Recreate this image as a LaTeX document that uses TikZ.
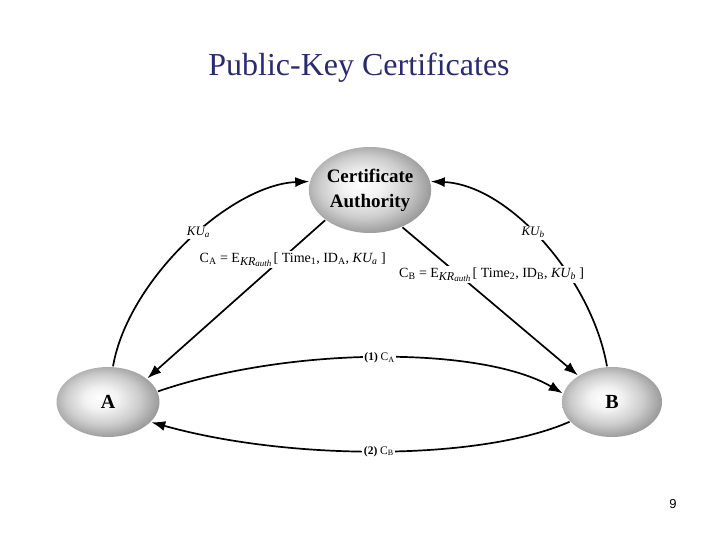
\documentclass[tikz,border=0pt]{standalone}
\usepackage{fontspec}
\setmainfont{Liberation Serif}
\newfontfamily\pagefont{Liberation Sans}
\usetikzlibrary{shapes.geometric,arrows.meta}
\definecolor{titleblue}{RGB}{42,42,110}
\pgfdeclareradialshading{partyshade}{\pgfpoint{-4bp}{3bp}}{color(0bp)=(white);color(8bp)=(gray!10);color(18bp)=(gray!40);color(27bp)=(gray!80);color(50bp)=(gray!85)}
\newcommand\keyauth{\raisebox{-0.45ex}{\fontsize{12bp}{12bp}\selectfont\textit{KR}\raisebox{-0.3ex}{\fontsize{9bp}{9bp}\selectfont\textit{auth}}}}
\begin{document}
\begin{tikzpicture}[x=1bp,y=1bp,line width=1.7bp,
  party/.style={ellipse,shading=partyshade,inner sep=0pt,font=\fontsize{20bp}{22bp}\selectfont\bfseries},
  lbl/.style={fill=white,inner sep=1.5bp,font=\fontsize{14bp}{16bp}\selectfont},
  steplbl/.style={fill=white,inner sep=1.5bp,font=\fontsize{11.5bp}{13bp}\selectfont},
  tip/.style={-{Latex[length=14bp,width=10bp]}}]
\useasboundingbox (0,0) rectangle (720,540);
\node[text=titleblue,font=\fontsize{32bp}{36bp}\selectfont] (title) at (359,472) {Public-Key Certificates};
\node[party,minimum width=115bp,minimum height=86bp,align=center,font=\fontsize{19bp}{25bp}\selectfont\bfseries] (CA) at (370,350) {Certificate\\Authority};
\node[party,minimum width=103bp,minimum height=70bp] (A) at (108,138) {A};
\node[party,minimum width=100bp,minimum height=70bp] (B) at (612,138) {B};
\draw[tip](A.82) .. controls (128,260) and (230,355) .. node[lbl,pos=0.55,font=\fontsize{13bp}{15bp}\selectfont\itshape]{KU\textsubscript{a}} (CA.172);
\draw[tip](B.98) .. controls (592,260) and (510,355) .. node[lbl,pos=0.55,font=\fontsize{13bp}{15bp}\selectfont\itshape]{KU\textsubscript{b}} (CA.8);
\draw[tip](CA.214) -- node[lbl,pos=0.25,xshift=12bp]{C\textsubscript{A} = E\keyauth\,[ Time\textsubscript{1}, ID\textsubscript{A}, \textit{KU\textsubscript{a}} ]} (A.31);
\draw[tip](CA.311) -- node[lbl,pos=0.32,xshift=33bp]{C\textsubscript{B} = E\keyauth\,[ Time\textsubscript{2}, ID\textsubscript{B}, \textit{KU\textsubscript{b}} ]} (B.142);
\draw[tip](A.12) .. controls (290,194) and (482,194) .. node[steplbl]{\textbf{(1)} C\textsubscript{A}} (B.170);
\draw[tip](B.205) .. controls (480,79) and (290,79) .. node[steplbl]{\textbf{(2)} C\textsubscript{B}} (A.335);
\node[font=\pagefont\fontsize{13bp}{15bp}\selectfont] (pagenum) at (673,36) {9};
\end{tikzpicture}
\end{document}
